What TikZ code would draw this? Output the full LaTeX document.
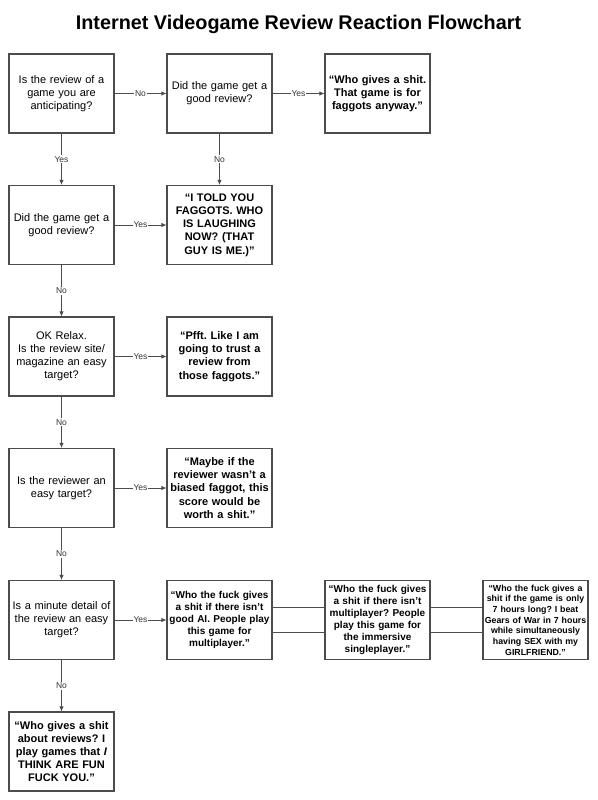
\documentclass[tikz,border=0pt]{standalone}
\usepackage{fontspec}
\setmainfont{Liberation Sans}
\frenchspacing
\usetikzlibrary{shapes,arrows,arrows.meta,positioning,calc}
\definecolor{edgegray}{gray}{0.3}
\tikzstyle{question} = [rectangle, draw=edgegray, line width=1.1pt, inner xsep=0pt, inner ysep=1pt, minimum width=105pt, minimum height=79pt, text width=105pt, align=center, font=\fontsize{11}{13}\selectfont]
\tikzstyle{answer} = [question, font=\bfseries\fontsize{11}{13.2}\selectfont]
\tikzstyle{line} = [draw=edgegray, line width=0.8pt, -{Latex[length=5pt,width=4.5pt]}]
\tikzstyle{choice} = [fill=white, inner sep=1pt, text=black!80, font=\fontsize{8.5}{9}\selectfont]

\begin{document}
\begin{tikzpicture}[x=1pt, y=1pt, node distance=158pt]
	\useasboundingbox (0,0) rectangle (597,-800);
	\node[font=\bfseries\fontsize{19.8}{20}\selectfont] (Title) at (298.5,-24) {Internet Videogame Review Reaction Flowchart};

	% First row
	\node[question] (Anticipating) at (61.5,-93.5) {Is the review of a\\game you are\\anticipating?};
	\node[question, right of=Anticipating] (good-review-a) {Did the game get a\\good review?};
	\node[answer, right of=good-review-a] (for-faggots) {“Who gives a shit.\\That game is for\\faggots anyway.”};

	% Second row
	\node[question, below of=Anticipating, node distance=131.5pt] (good-review-b) {Did the game get a\\good review?};
	\node[answer, right of=good-review-b] (told-you) {“I TOLD YOU\\FAGGOTS. WHO\\IS LAUGHING\\NOW? (THAT\\GUY IS ME.)”};

	% Third row
	\node[question, below of=good-review-b, node distance=131.5pt] (Site) {OK Relax.\\Is the review site/\\magazine an easy\\target?};
	\node[answer, right of=Site] (Pfft) {“Pfft. Like I am\\going to trust a\\review from\\those faggots.”};

	% Fourth row
	\node[question, below of=Site, node distance=131.5pt] (Reviewer) {Is the reviewer an\\easy target?};
	\node[answer, right of=Reviewer] (biased-faggot) {“Maybe if the\\reviewer wasn’t a\\biased faggot, this\\score would be\\worth a shit.”};

	% Fifth row
	\node[question, below of=Reviewer, node distance=132pt] (Detail) {Is a minute detail of\\the review an easy\\target?};
	\node[answer, right of=Detail, font=\bfseries\fontsize{10}{12}\selectfont] (Multiplayer) {“Who the fuck gives\\a shit if there isn’t\\good AI. People play\\this game for\\multiplayer.”};
	\node[answer, right of=Multiplayer, font=\bfseries\fontsize{10}{12}\selectfont] (Singleplayer) {“Who the fuck gives\\a shit if there isn’t\\multiplayer? People\\play this game for\\the immersive\\singleplayer.”};
	\node[answer, right of=Singleplayer, font=\bfseries\fontsize{8.8}{10.7}\selectfont] (seven-hours) {“Who the fuck gives a\\shit if the game is only\\7 hours long? I beat\\Gears of War in 7 hours\\while simultaneously\\having SEX with my\\GIRLFRIEND.”};

	% Sixth row
	\node[answer, below of=Detail, node distance=131.5pt] (Fun) {“Who gives a shit\\about reviews? I\\play games that \textit{I}\\THINK ARE FUN\\FUCK YOU.”};

	% Paths
	\path [line] (Anticipating) -- node[choice]{No} (good-review-a);
	\path [line] (good-review-a) -- node[choice]{Yes} (for-faggots);
	\path [line] (Anticipating) -- node[choice]{Yes} (good-review-b);
	\path [line] (good-review-a) -- node[choice]{No} (told-you);
	\path [line] (good-review-b) -- node[choice]{Yes} (told-you);
	\path [line] (good-review-b) -- node[choice]{No} (Site);
	\path [line] (Site) -- node[choice]{Yes} (Pfft);
	\path [line] (Site) -- node[choice]{No} (Reviewer);
	\path [line] (Reviewer) -- node[choice]{Yes} (biased-faggot);
	\path [line] (Reviewer) -- node[choice]{No} (Detail);
	\path [line] (Detail) -- node[choice]{Yes} (Multiplayer);
	\path [line] (Detail) -- node[choice]{No} (Fun);
	\draw[edgegray, line width=0.8pt] ([yshift=12.5pt]Multiplayer.east) -- ([yshift=12.5pt]Singleplayer.west);
	\draw[edgegray, line width=0.8pt] ([yshift=-12.5pt]Multiplayer.east) -- ([yshift=-12.5pt]Singleplayer.west);
	\draw[edgegray, line width=0.8pt] ([yshift=12.5pt]Singleplayer.east) -- ([yshift=12.5pt]seven-hours.west);
	\draw[edgegray, line width=0.8pt] ([yshift=-12.5pt]Singleplayer.east) -- ([yshift=-12.5pt]seven-hours.west);
\end{tikzpicture}
\end{document}
